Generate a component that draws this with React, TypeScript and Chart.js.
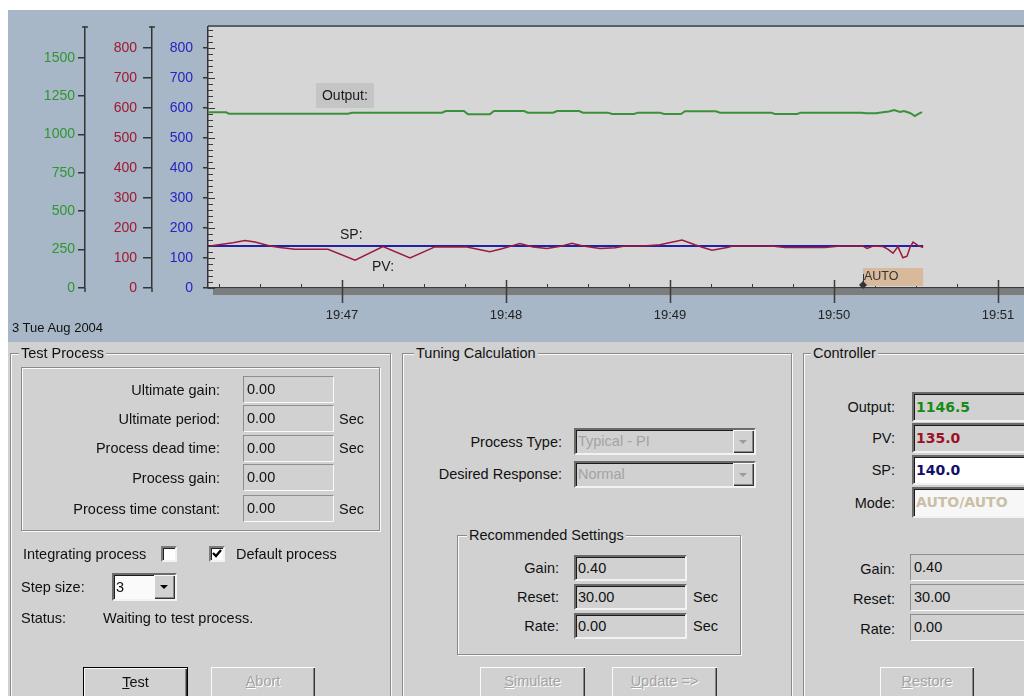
import React, { useEffect, useRef } from "react";
import { Chart, registerables } from "chart.js";

Chart.register(...registerables);

// ---- data (time = seconds after 19:46:00) ----
const outputTimes = [11, 17.6, 18.7, 62.2, 63.7, 96.6, 98.0, 104.6, 106.1, 114.1, 115.6, 126.6, 128.0, 137.2, 138.7, 146.7, 148.2, 157.3, 158.8, 166.8, 168.3, 176.3, 177.8, 184.0, 185.5, 196.8, 198.3, 217.0, 218.4, 226.5, 227.9, 250.2, 251.7, 255.4, 257.9, 260.1, 262.0, 264.1, 265.6, 267.8, 269.6, 270.7, 272.2];
const outputValues = [1144, 1144, 1135, 1135, 1142, 1142, 1153, 1153, 1131, 1131, 1153, 1153, 1142, 1142, 1153, 1153, 1142, 1142, 1133, 1133, 1142, 1142, 1133, 1133, 1151, 1151, 1142, 1142, 1133, 1133, 1142, 1142, 1138, 1138, 1144, 1150, 1159, 1146, 1153, 1140, 1120, 1133, 1146];

const pvTimes = [11.7, 20.1, 24.5, 28.2, 33.7, 37.3, 42.8, 54.9, 64.8, 75.0, 84.9, 94.0, 105.7, 114.1, 118.5, 125.1, 129.9, 135.0, 140.5, 144.1, 148.2, 154.4, 159.9, 163.5, 170.1, 176.3, 184.4, 189.1, 192.1, 195.4, 200.9, 203.0, 217.3, 222.1, 236.7, 242.2, 250.6, 252.1, 254.3, 257.9, 259.8, 261.6, 263.4, 264.1, 265.2, 266.7, 267.8, 268.9, 270.7, 272.6];
const pvValues = [140, 151, 158, 153, 140, 135, 129, 129, 93, 138, 100, 137, 137, 121, 131, 148, 137, 132, 140, 149, 140, 132, 134, 140, 140, 144, 160, 144, 135, 126, 135, 140, 140, 135, 135, 140, 140, 132, 140, 138, 129, 116, 138, 123, 101, 106, 135, 153, 142, 135];

const spTimes = [11, 272.6];
const spValues = [140, 140];

const greenTicks = [0, 250, 500, 750, 1000, 1250, 1500];
const redTicks = [0, 100, 200, 300, 400, 500, 600, 700, 800];
const blueTicks = [0, 100, 200, 300, 400, 500, 600, 700, 800];
const timeTicks = [60, 120, 180, 240, 300];
const timeLabels = ["19:47", "19:48", "19:49", "19:50", "19:51"];

const modeTimes = [250.6];
const modeLabels = ["AUTO"];

const seriesTags = [
  { text: "Output:", t: 50.5, v: 1257, axis: "yG", box: true },
  { text: "SP:", t: 59.3, v: 177, axis: "yB", box: false },
  { text: "PV:", t: 71, v: 70, axis: "yB", box: false },
];

const FONT = '"Liberation Sans", Arial, Helvetica, sans-serif';
const FACE = "#d1d1d1";

const decorPlugin = {
  id: "decor",
  beforeDraw(chart: any) {
    const { ctx, chartArea: a, width, height } = chart;
    ctx.save();
    ctx.fillStyle = "#a7b7c7";
    ctx.fillRect(0, 0, width, height);
    ctx.fillStyle = "#d6d6d6";
    ctx.fillRect(a.left, a.top, a.right - a.left, a.bottom - a.top);
    ctx.fillStyle = "#56606a";
    ctx.fillRect(a.left, a.top - 2, a.right - a.left, 2);
    ctx.fillStyle = "#7d7d7d";
    ctx.fillRect(a.left + 5, a.bottom + 1, a.right - a.left - 5, 6);
    ctx.restore();
  },
  afterDraw(chart: any) {
    const { ctx, chartArea: a, scales } = chart;
    const xs = scales.x;
    const yB = scales.yB;
    ctx.save();
    // x-axis ticks (major every minute, minor every 15 s)
    ctx.strokeStyle = "#3a3a3a";
    for (let t = Math.ceil(xs.min / 15) * 15; t <= xs.max; t += 15) {
      const px = Math.round(xs.getPixelForValue(t)) + 0.5;
      const major = timeTicks.includes(t);
      ctx.lineWidth = major ? 1.5 : 1;
      ctx.beginPath();
      ctx.moveTo(px, major ? a.bottom - 8 : a.bottom - 4);
      ctx.lineTo(px, major ? a.bottom + 15 : a.bottom);
      ctx.stroke();
    }
    // blue axis inner ticks
    ctx.lineWidth = 1;
    for (let v = 0; v <= yB.max; v += 20) {
      const py = Math.round(yB.getPixelForValue(v)) + 0.5;
      ctx.beginPath();
      ctx.moveTo(a.left, py);
      ctx.lineTo(a.left + (v % 100 === 0 ? 7 : 5), py);
      ctx.stroke();
    }
    // caps of green / red axes
    ctx.lineWidth = 1.5;
    for (const s of [scales.yG, scales.yR]) {
      const x = Math.round(s.right);
      ctx.beginPath();
      ctx.moveTo(x - 3, a.top);
      ctx.lineTo(x + 3, a.top);
      ctx.moveTo(x, a.bottom);
      ctx.lineTo(x, a.bottom + 4);
      ctx.stroke();
    }
    // series tags
    ctx.font = `14px ${FONT}`;
    ctx.textBaseline = "middle";
    for (const tag of seriesTags) {
      const px = xs.getPixelForValue(tag.t);
      const py = scales[tag.axis].getPixelForValue(tag.v);
      if (tag.box) {
        const w = ctx.measureText(tag.text).width;
        ctx.fillStyle = "#c5c5c5";
        ctx.fillRect(px, py - 12, w + 12, 25);
        ctx.fillStyle = "#1a1a1a";
        ctx.fillText(tag.text, px + 6, py + 1);
      } else {
        ctx.fillStyle = "#1a1a1a";
        ctx.fillText(tag.text, px, py);
      }
    }
    // mode band
    const endT = pvTimes[pvTimes.length - 1];
    modeTimes.forEach((mt, i) => {
      const x0 = xs.getPixelForValue(mt);
      const x1 = xs.getPixelForValue(endT);
      ctx.fillStyle = "#d9b99b";
      ctx.fillRect(x0, a.bottom - 20, x1 - x0, 18);
      ctx.fillStyle = "#333";
      ctx.font = `12.5px ${FONT}`;
      ctx.fillText(modeLabels[i], x0 + 1, a.bottom - 11);
      ctx.strokeStyle = "#333";
      ctx.lineWidth = 1;
      ctx.beginPath();
      ctx.moveTo(Math.round(x0) + 0.5, a.bottom - 3);
      ctx.lineTo(Math.round(x0) + 0.5, a.bottom - 14);
      ctx.stroke();
      ctx.beginPath();
      ctx.moveTo(x0, a.bottom - 7);
      ctx.lineTo(x0 + 4, a.bottom - 3);
      ctx.lineTo(x0, a.bottom + 1);
      ctx.lineTo(x0 - 4, a.bottom - 3);
      ctx.closePath();
      ctx.fill();
    });
    ctx.restore();
  },
};

function yAxis(ticks: number[], max: number, width: number, weight: number, color: string, tickLength: number, padding: number) {
  return {
    type: "linear",
    position: "left",
    weight,
    min: 0,
    max,
    afterBuildTicks: (s: any) => {
      s.ticks = ticks.map((v) => ({ value: v }));
    },
    afterFit: (s: any) => {
      s.width = width;
      s.paddingTop = 0;
      s.paddingBottom = 0;
      s.paddingLeft = 0;
      s.paddingRight = 0;
    },
    grid: { display: true, drawOnChartArea: false, drawTicks: true, tickLength, color: "#333", lineWidth: 1.5 },
    border: { display: true, color: "#333", width: 1.5 },
    ticks: { color, autoSkip: false, padding, font: { family: FONT, size: 14 }, callback: (v: any) => String(v) },
  };
}

type TxtProps = { x: number; cy: number; children: React.ReactNode; align?: "left" | "right"; color?: string; bold?: boolean; disabled?: boolean; size?: number; family?: string };
function Txt({ x, cy, children, align = "left", color = "#111", bold = false, disabled = false, size = 14.5, family }: TxtProps) {
  const style: React.CSSProperties = {
    position: "absolute",
    top: cy - 9,
    height: 18,
    lineHeight: "18px",
    whiteSpace: "nowrap",
    fontSize: size,
    fontWeight: bold ? 700 : 400,
    color: disabled ? "#a3a3a3" : color,
    textShadow: disabled ? "1px 1px 0 #fff" : undefined,
    fontFamily: family || FONT,
  };
  if (align === "right") style.right = 1024 - x;
  else style.left = x;
  return <div style={style}>{children}</div>;
}

type FieldProps = { x: number; y: number; w: number; h: number; text?: string; deep?: boolean; bg?: string; color?: string; bold?: boolean; size?: number; family?: string; children?: React.ReactNode };
function Field({ x, y, w, h, text, deep = false, bg = FACE, color = "#111", bold = false, size = 14.5, family, children }: FieldProps) {
  const bw = deep ? 2 : 1;
  return (
    <div
      style={{
        position: "absolute",
        left: x,
        top: y,
        width: w,
        height: h,
        boxSizing: "border-box",
        background: bg,
        borderStyle: "solid",
        borderWidth: bw,
        borderColor: deep ? "#6a6a6a #f2f2f2 #f2f2f2 #6a6a6a" : "#8e8e8e #fafafa #fafafa #8e8e8e",
        boxShadow: deep ? "inset 1px 1px 0 #1c1c1c" : undefined,
        paddingLeft: deep ? 2 : 3,
        lineHeight: `${h - 2 * bw}px`,
        fontSize: size,
        fontWeight: bold ? 700 : 400,
        fontFamily: family || FONT,
        color,
        whiteSpace: "nowrap",
        overflow: "hidden",
      }}
    >
      {text}
      {children}
    </div>
  );
}

function Group({ x, y, w, h, title, titleX }: { x: number; y: number; w: number; h: number; title?: string; titleX?: number }) {
  return (
    <>
      <div
        style={{
          position: "absolute",
          left: x,
          top: y,
          width: w,
          height: h,
          boxSizing: "border-box",
          border: "1px solid #8a8a8a",
          boxShadow: "inset 1px 1px 0 #fafafa, 1px 1px 0 #fafafa",
        }}
      />
      {title && (
        <div
          style={{
            position: "absolute",
            left: (titleX ?? x + 10) - 2,
            top: y - 9,
            height: 18,
            lineHeight: "18px",
            padding: "0 2px",
            background: FACE,
            fontSize: 14.5,
            whiteSpace: "nowrap",
          }}
        >
          {title}
        </div>
      )}
    </>
  );
}

function Btn({ x, y, w, h, label, ul = 0, disabled = false, def = false }: { x: number; y: number; w: number; h: number; label: string; ul?: number; disabled?: boolean; def?: boolean }) {
  return (
    <div
      style={{
        position: "absolute",
        left: x,
        top: y,
        width: w,
        height: h,
        boxSizing: "border-box",
        background: FACE,
        border: def ? "1px solid #000" : "none",
        boxShadow: "inset 1px 1px 0 #fafafa, inset -1px -1px 0 #333, inset -2px -2px 0 #888",
        textAlign: "center",
        paddingTop: 6,
        fontSize: 14.5,
        color: disabled ? "#a3a3a3" : "#111",
        textShadow: disabled ? "1px 1px 0 #fff" : undefined,
      }}
    >
      {label.slice(0, ul)}
      <span style={{ textDecoration: "underline" }}>{label.charAt(ul)}</span>
      {label.slice(ul + 1)}
    </div>
  );
}

function DropBtn({ disabled = false, h }: { disabled?: boolean; h: number }) {
  return (
    <div
      style={{
        position: "absolute",
        right: 0,
        top: 0,
        width: 21,
        height: h,
        boxSizing: "border-box",
        background: FACE,
        boxShadow: "inset 1px 1px 0 #fafafa, inset -1px -1px 0 #333, inset -2px -2px 0 #888",
      }}
    >
      <div
        style={{
          position: "absolute",
          left: 6,
          top: h / 2 - 2,
          width: 0,
          height: 0,
          borderLeft: "4px solid transparent",
          borderRight: "4px solid transparent",
          borderTop: `4px solid ${disabled ? "#9a9a9a" : "#000"}`,
        }}
      />
    </div>
  );
}

function Check({ x, y, checked = false }: { x: number; y: number; checked?: boolean }) {
  return (
    <div
      style={{
        position: "absolute",
        left: x,
        top: y,
        width: 16,
        height: 16,
        boxSizing: "border-box",
        background: "#fff",
        borderStyle: "solid",
        borderWidth: 2,
        borderColor: "#7a7a7a #f2f2f2 #f2f2f2 #7a7a7a",
        boxShadow: "inset 1px 1px 0 #222",
      }}
    >
      {checked && (
        <svg width="12" height="12" style={{ position: "absolute", left: 0, top: 0 }}>
          <polyline points="2,5 5,8 10,2" fill="none" stroke="#000" strokeWidth="2.2" />
        </svg>
      )}
    </div>
  );
}

export default function App() {
  const canvasRef = useRef<HTMLCanvasElement>(null);

  useEffect(() => {
    document.body.style.margin = "0";
    document.body.style.overflow = "hidden";
    const canvas = canvasRef.current;
    if (!canvas) return;
    const chart = new Chart(canvas, {
      type: "line",
      data: {
        datasets: [
          {
            label: "PV",
            data: pvTimes.map((t, i) => ({ x: t, y: pvValues[i] })),
            yAxisID: "yR",
            borderColor: "#9a1b3c",
            borderWidth: 1.5,
            pointRadius: 0,
            tension: 0,
            order: 0,
          },
          {
            label: "SP",
            data: spTimes.map((t, i) => ({ x: t, y: spValues[i] })),
            yAxisID: "yB",
            borderColor: "#2020a8",
            borderWidth: 2,
            pointRadius: 0,
            order: 1,
          },
          {
            label: "Output",
            data: outputTimes.map((t, i) => ({ x: t, y: outputValues[i] })),
            yAxisID: "yG",
            borderColor: "#3a913a",
            borderWidth: 2,
            pointRadius: 0,
            tension: 0,
            order: 2,
          },
        ],
      },
      options: {
        animation: false,
        responsive: false,
        maintainAspectRatio: false,
        devicePixelRatio: 1,
        events: [],
        layout: { padding: { left: 0, top: 17, right: 0, bottom: 0 } },
        plugins: { legend: { display: false }, tooltip: { enabled: false } },
        scales: {
          x: {
            type: "linear",
            position: "bottom",
            min: 11,
            max: 309.5,
            afterBuildTicks: (s: any) => {
              s.ticks = timeTicks.map((v) => ({ value: v }));
            },
            afterFit: (s: any) => {
              s.height = 54;
              s.paddingLeft = 0;
              s.paddingRight = 0;
              s.paddingTop = 0;
              s.paddingBottom = 0;
            },
            grid: { display: true, drawOnChartArea: false, drawTicks: false },
            border: { display: true, color: "#3a3a3a", width: 1.5 },
            ticks: {
              autoSkip: false,
              maxRotation: 0,
              minRotation: 0,
              padding: 20,
              color: "#222",
              font: { family: FONT, size: 13 },
              callback: (v: any) => {
                const i = timeTicks.indexOf(Number(v));
                return i >= 0 ? timeLabels[i] : "";
              },
            },
          },
          yG: yAxis(greenTicks, 1700, 77, 2, "#2f962f", 7, 3),
          yR: yAxis(redTicks, 870, 67, 1, "#a01830", 9, 6),
          yB: yAxis(blueTicks, 870, 56, 0, "#2525c0", 5, 10),
        } as any,
      },
      plugins: [decorPlugin],
    } as any);
    return () => chart.destroy();
  }, []);

  return (
    <div
      style={{
        position: "fixed",
        left: 0,
        top: 0,
        width: 1024,
        height: 696,
        overflow: "hidden",
        background: "#fff",
        fontFamily: FONT,
        fontSize: 14.5,
        color: "#111",
      }}
    >
      <canvas ref={canvasRef} width={1016} height={332} style={{ position: "absolute", left: 8, top: 10, width: 1016, height: 332 }} />
      <Txt x={12} cy={328} size={13}>3 Tue Aug 2004</Txt>

      <div style={{ position: "absolute", left: 8, top: 342, width: 1016, height: 354, background: FACE }} />

      {/* Test Process */}
      <Group x={10} y={353} w={381} h={420} title="Test Process" titleX={21} />
      <Group x={21} y={367} w={359} h={164} />
      <Txt x={220} cy={390} align="right">Ultimate gain:</Txt>
      <Txt x={220} cy={419} align="right">Ultimate period:</Txt>
      <Txt x={220} cy={448} align="right">Process dead time:</Txt>
      <Txt x={220} cy={478} align="right">Process gain:</Txt>
      <Txt x={220} cy={509} align="right">Process time constant:</Txt>
      <Field x={243} y={376} w={91} h={27} text="0.00" />
      <Field x={243} y={405} w={91} h={27} text="0.00" />
      <Field x={243} y={435} w={91} h={27} text="0.00" />
      <Field x={243} y={464} w={91} h={27} text="0.00" />
      <Field x={243} y={495} w={91} h={27} text="0.00" />
      <Txt x={339} cy={419}>Sec</Txt>
      <Txt x={339} cy={448}>Sec</Txt>
      <Txt x={339} cy={509}>Sec</Txt>

      <Txt x={23} cy={554}>Integrating process</Txt>
      <Check x={161} y={546} />
      <Check x={209} y={546} checked />
      <Txt x={236} cy={554}>Default process</Txt>
      <Txt x={21} cy={587}>Step size:</Txt>
      <Field x={112} y={573} w={65} h={28} deep bg="#fafafa" text="3">
        <DropBtn h={24} />
      </Field>
      <Txt x={21} cy={618}>Status:</Txt>
      <Txt x={103} cy={618}>Waiting to test process.</Txt>
      <Btn x={83} y={667} w={105} h={42} label="Test" def />
      <Btn x={211} y={667} w={104} h={42} label="Abort" disabled />

      {/* Tuning Calculation */}
      <Group x={402} y={353} w={390} h={420} title="Tuning Calculation" titleX={416} />
      <Txt x={562} cy={442} align="right">Process Type:</Txt>
      <Txt x={562} cy={474} align="right">Desired Response:</Txt>
      <Field x={574} y={428} w={182} h={27} deep color="#a3a3a3">
        Typical - PI
        <DropBtn h={23} disabled />
      </Field>
      <Field x={574} y={461} w={182} h={27} deep color="#a3a3a3">
        Normal
        <DropBtn h={23} disabled />
      </Field>
      <Group x={457} y={535} w={284} h={120} title="Recommended Settings" titleX={469} />
      <Txt x={559} cy={568} align="right">Gain:</Txt>
      <Txt x={559} cy={597} align="right">Reset:</Txt>
      <Txt x={559} cy={626} align="right">Rate:</Txt>
      <Field x={574} y={555} w={113} h={26} deep text="0.40" />
      <Field x={574} y={584} w={113} h={26} deep text="30.00" />
      <Field x={574} y={613} w={113} h={26} deep text="0.00" />
      <Txt x={693} cy={597}>Sec</Txt>
      <Txt x={693} cy={626}>Sec</Txt>
      <Btn x={480} y={667} w={105} h={42} label="Simulate" disabled />
      <Btn x={612} y={667} w={105} h={42} label="Update =>" disabled />

      {/* Controller */}
      <Group x={803} y={353} w={260} h={420} title="Controller" titleX={813} />
      <Txt x={895} cy={407} align="right">Output:</Txt>
      <Txt x={895} cy={438} align="right">PV:</Txt>
      <Txt x={895} cy={470} align="right">SP:</Txt>
      <Txt x={895} cy={503} align="right">Mode:</Txt>
      <Field x={912} y={392} w={130} h={30} deep text="1146.5" bold color="#178a17" family='"DejaVu Sans", sans-serif' size={14} />
      <Field x={912} y={423} w={130} h={30} deep text="135.0" bold color="#9c1024" family='"DejaVu Sans", sans-serif' size={14} />
      <Field x={912} y={455} w={130} h={30} deep bg="#ffffff" text="140.0" bold color="#101068" family='"DejaVu Sans", sans-serif' size={14} />
      <Field x={912} y={487} w={130} h={31} deep bg="#f7f7f7" text="AUTO/AUTO" bold color="#c9c0a6" family='"DejaVu Sans", sans-serif' size={14} />
      <Txt x={895} cy={569} align="right">Gain:</Txt>
      <Txt x={895} cy={599} align="right">Reset:</Txt>
      <Txt x={895} cy={629} align="right">Rate:</Txt>
      <Field x={910} y={554} w={130} h={27} text="0.40" />
      <Field x={910} y={584} w={130} h={27} text="30.00" />
      <Field x={910} y={614} w={130} h={27} text="0.00" />
      <Btn x={880} y={667} w={94} h={42} label="Restore" disabled />
    </div>
  );
}
